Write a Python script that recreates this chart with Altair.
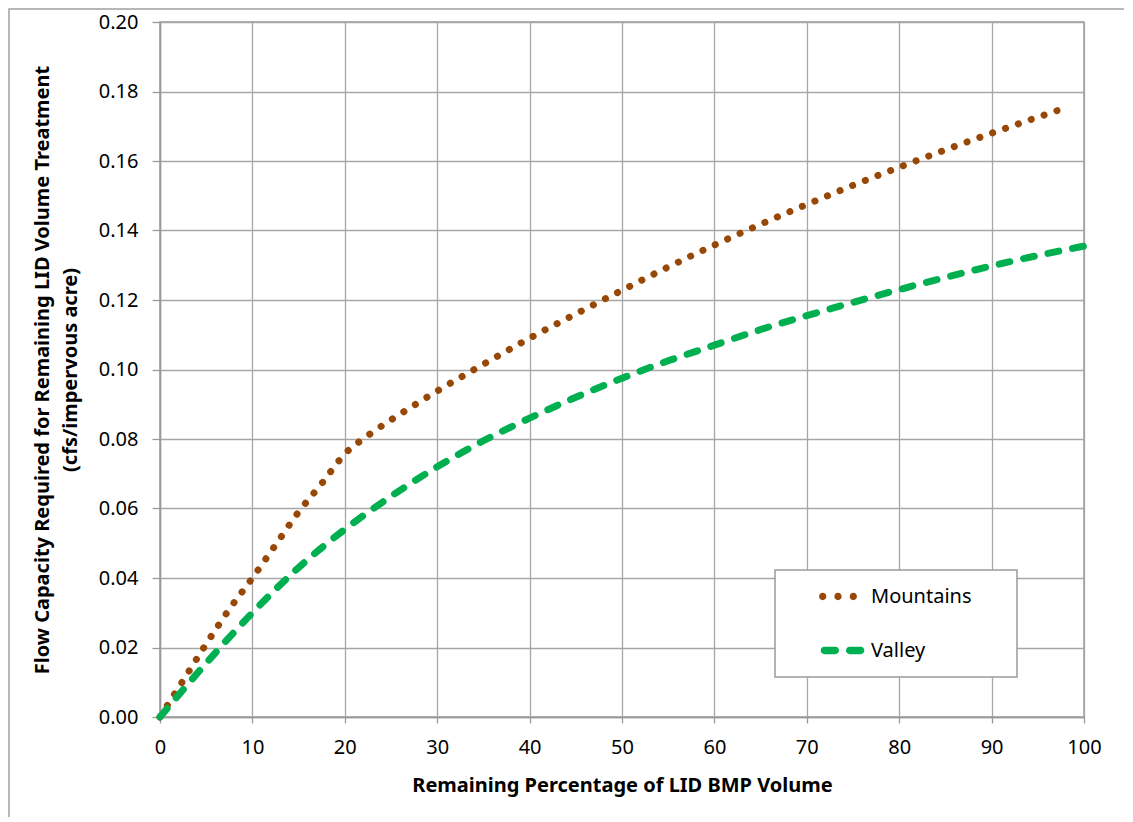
import altair as alt
import pandas as pd

# ---- data ----
mountains_x = [0, 2.5, 5, 7.5, 10, 12.5, 15, 17.5, 20, 22.5, 25, 27.5, 30, 35, 40, 45, 50,
               55, 60, 65, 70, 75, 80, 85, 90, 95, 98]
mountains_y = [0.0, 0.0105, 0.021, 0.031, 0.040, 0.0495, 0.059, 0.0672, 0.0757, 0.081, 0.0855,
               0.0897, 0.0938, 0.1015, 0.109, 0.116, 0.1228, 0.1295, 0.1358, 0.1418, 0.1475,
               0.153, 0.1582, 0.1632, 0.168, 0.1726, 0.1753]
valley_x = [0, 5, 10, 15, 20, 25, 30, 35, 40, 45, 50, 55, 60, 65, 70, 75, 80, 85, 90, 95, 100]
valley_y = [0.0, 0.0155, 0.030, 0.043, 0.054, 0.0635, 0.072, 0.0795, 0.086, 0.092, 0.0975,
            0.1025, 0.107, 0.1115, 0.1155, 0.1193, 0.123, 0.1265, 0.1298, 0.1328, 0.1355]
series_names = ["Mountains", "Valley"]
series_colors = ["#974806", "#00B050"]
x_ticks = list(range(0, 101, 10))
y_ticks = [0.00, 0.02, 0.04, 0.06, 0.08, 0.10, 0.12, 0.14, 0.16, 0.18, 0.20]

df_m = pd.DataFrame({"x": mountains_x, "y": mountains_y, "series": "Mountains"})
df_v = pd.DataFrame({"x": valley_x, "y": valley_y, "series": "Valley"})
df_all = pd.concat([df_m, df_v], ignore_index=True)
one_row = pd.DataFrame({"k": [0]})

FONT = "Noto Sans"
W, H = 924, 695

# legend glyphs (unit-square SVG paths): three round dots / two rounded dashes
R = 0.158


def circle(cx, r=R):
    return f"M{cx - r},0A{r},{r} 0 1,0 {cx + r},0A{r},{r} 0 1,0 {cx - r},0Z"


def capsule(x0, x1, r=R):
    return (f"M{x0 + r},{-r}H{x1 - r}A{r},{r} 0 0,1 {x1 - r},{r}"
            f"H{x0 + r}A{r},{r} 0 0,1 {x0 + r},{-r}Z")


dots_path = circle(-0.839) + circle(-0.174) + circle(0.491)
dash_path = capsule(-0.926, -0.130) + capsule(0.174, 0.970)

x_enc = alt.X("x:Q", scale=alt.Scale(domain=[0, 100], nice=False),
              axis=alt.Axis(values=x_ticks, title="Remaining Percentage of LID BMP Volume",
                            format="d", labelFlush=False))
y_enc = alt.Y("y:Q", scale=alt.Scale(domain=[0, 0.2], nice=False),
              axis=alt.Axis(values=y_ticks, format=".2f", labelFlush=False,
                            title=["Flow Capacity Required for Remaining LID Volume Treatment",
                                   "(cfs/impervous acre)"]))

mountains = alt.Chart(df_m).mark_line(
    color=series_colors[0], strokeWidth=7, strokeCap="round", strokeDash=[0.1, 13.5],
    interpolate="monotone").encode(x=x_enc, y=y_enc, order="x:Q")

valley = alt.Chart(df_v).mark_line(
    color=series_colors[1], strokeWidth=7, strokeCap="round", strokeDash=[11, 14],
    interpolate="monotone").encode(x=x_enc, y=y_enc, order="x:Q")

frame = alt.Chart(one_row).mark_rect(fill=None, stroke="#a0a0a0", strokeWidth=1.5, clip=False).encode(
    x=alt.value(-151), y=alt.value(-13), x2=alt.value(W + 300), y2=alt.value(H + 300)
)

legend_box = alt.Chart(one_row).mark_rect(fill="white", stroke="#9a9a9a", strokeWidth=1.5).encode(
    x=alt.value(615), y=alt.value(548), x2=alt.value(857), y2=alt.value(655)
)

legend_def = alt.Legend(
    title=None, orient="none", legendX=659, legendY=551.5,
    symbolSize=46 * 46, symbolStrokeWidth=0, labelOffset=6,
    labelFont=FONT, labelFontSize=20, labelColor="#000",
    padding=0, rowPadding=21,
)

# legend source: same series, no marks drawn (filtered out), glyphs from the shape scale
legend_layer = alt.Chart(df_all).mark_point(filled=True, opacity=1).encode(
    x="x:Q", y="y:Q",
    color=alt.Color("series:N", scale=alt.Scale(domain=series_names, range=series_colors),
                    legend=legend_def),
    shape=alt.Shape("series:N", scale=alt.Scale(domain=series_names,
                                                range=[dots_path, dash_path]),
                    legend=legend_def),
).transform_filter("false")

chart = alt.layer(frame, mountains, valley, legend_box, legend_layer).properties(
    width=W, height=H,
    autosize=alt.AutoSizeParams(type="none"),
    padding={"left": 152, "top": 14, "right": 40, "bottom": 100},
).configure_view(stroke="#9a9a9a", strokeWidth=1.5).configure_axis(
    labelFont=FONT, labelFontSize=20, labelColor="#000",
    titleFont=FONT, titleFontSize=20, titleFontWeight="bold", titleColor="#000",
    gridColor="#a6a6a6", gridWidth=1.3, domainColor="#9a9a9a", domainWidth=1.5,
    tickColor="#9a9a9a", tickWidth=1.3,
).configure_axisY(
    tickSize=8, labelPadding=14, titlePadding=18, titleLineHeight=28,
).configure_axisX(
    tickSize=6, labelPadding=14, titlePadding=18,
)

chart.save("out.html", embed_options={"renderer": "svg", "actions": False})
